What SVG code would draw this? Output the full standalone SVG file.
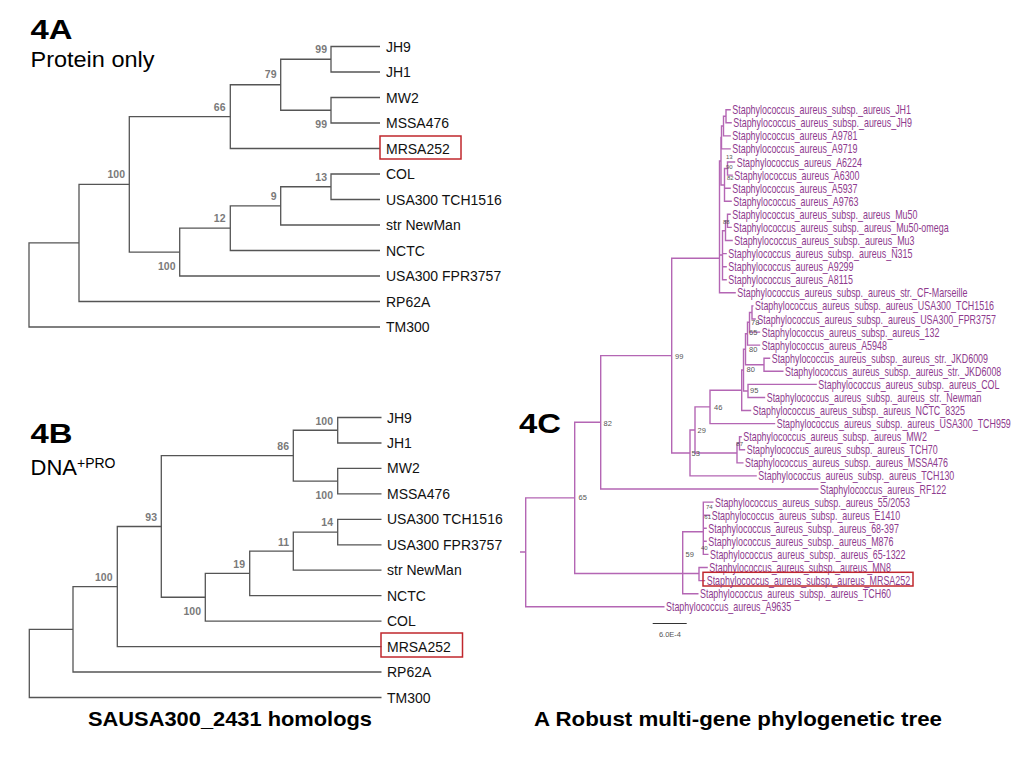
<svg xmlns="http://www.w3.org/2000/svg" width="1024" height="768" viewBox="0 0 1024 768">
<style>
.bg{fill:#fff}
.ln{fill:none;stroke:#555;stroke-width:1.3}
.lp{fill:none;stroke:#b466b4;stroke-width:1.4}
.lf{font-family:"Liberation Sans",Arial,sans-serif;font-size:14px;fill:#111}
.sp{font-family:"Liberation Sans",Arial,sans-serif;font-size:10.5px;font-weight:bold;fill:#7a7a7a;text-anchor:end}
.cl{font-family:"Liberation Sans",Arial,sans-serif;font-size:12.5px;fill:#8e3a8e}
.cs{font-family:"Liberation Sans",Arial,sans-serif;font-size:7.5px;fill:#555}
.ct{font-family:"Liberation Sans",Arial,sans-serif;font-size:6px;fill:#555}
.ttl{font-family:"Liberation Sans",Arial,sans-serif;font-weight:bold;font-size:28px;fill:#000}
.sub{font-family:"Liberation Sans",Arial,sans-serif;font-size:22px;fill:#000}
.cap{font-family:"Liberation Sans",Arial,sans-serif;font-weight:bold;font-size:21px;fill:#000}
.box{fill:none;stroke:#c0272d;stroke-width:1.5}
</style>
<rect class="bg" x="0" y="0" width="1024" height="768"/>

<!-- Titles -->
<g id="titles">
<text class="ttl" x="30.5" y="39.3" textLength="42" lengthAdjust="spacingAndGlyphs">4A</text>
<text class="sub" x="30.5" y="67" textLength="124" lengthAdjust="spacingAndGlyphs">Protein only</text>
<text class="ttl" x="30.5" y="443.3" textLength="42" lengthAdjust="spacingAndGlyphs">4B</text>
<text class="sub" x="30.5" y="474.7">DNA<tspan font-size="14" dy="-6.4">+PRO</tspan></text>
<text class="ttl" x="519" y="433" textLength="42" lengthAdjust="spacingAndGlyphs">4C</text>
<text class="cap" x="88" y="726" textLength="284" lengthAdjust="spacingAndGlyphs">SAUSA300_2431 homologs</text>
<text class="cap" x="534" y="726" textLength="408" lengthAdjust="spacingAndGlyphs">A Robust multi-gene phylogenetic tree</text>
</g>

<!-- ===== 4A ===== -->
<g id="tree4A-connectors">
<path class="ln" d="M380 46.5 H331 V72 H380"/>
<path class="ln" d="M380 97.5 H331 V123 H380"/>
<path class="ln" d="M331 59.25 H280.7 V110.25 H331"/>
<path class="ln" d="M280.7 84.75 H230.3 V148.5 H380"/>
<path class="ln" d="M380 174 H331 V199.5 H380"/>
<path class="ln" d="M331 186.75 H280.7 V225 H380"/>
<path class="ln" d="M280.7 205.9 H230.3 V250.5 H380"/>
<path class="ln" d="M230.3 228.2 H179.7 V276 H380"/>
<path class="ln" d="M230.3 116.6 H129.3 V252.1 H179.7"/>
<path class="ln" d="M129.3 184.35 H79 V301.5 H380"/>
<path class="ln" d="M79 242.9 H29 V327 H380"/>
</g>
<g id="tree4A-support">
<text class="sp" x="327" y="53">99</text>
<text class="sp" x="276.5" y="78">79</text>
<text class="sp" x="225.5" y="111">66</text>
<text class="sp" x="327" y="128">99</text>
<text class="sp" x="125" y="178">100</text>
<text class="sp" x="327" y="181">13</text>
<text class="sp" x="276.5" y="200">9</text>
<text class="sp" x="225.5" y="222">12</text>
<text class="sp" x="175.5" y="270">100</text>
</g>
<g id="a-JH9"><text class="lf" x="386" y="51.5">JH9</text></g>
<g id="a-JH1"><text class="lf" x="386" y="77">JH1</text></g>
<g id="a-MW2"><text class="lf" x="386" y="102.5">MW2</text></g>
<g id="a-MSSA476"><text class="lf" x="386" y="128">MSSA476</text></g>
<g id="a-MRSA252"><rect class="box" x="380" y="136" width="81" height="23"/><text class="lf" x="386" y="153.5">MRSA252</text></g>
<g id="a-COL"><text class="lf" x="386" y="179">COL</text></g>
<g id="a-TCH1516"><text class="lf" x="386" y="204.5">USA300 TCH1516</text></g>
<g id="a-NewMan"><text class="lf" x="386" y="230">str NewMan</text></g>
<g id="a-NCTC"><text class="lf" x="386" y="255.5">NCTC</text></g>
<g id="a-FPR3757"><text class="lf" x="386" y="281">USA300 FPR3757</text></g>
<g id="a-RP62A"><text class="lf" x="386" y="306.5">RP62A</text></g>
<g id="a-TM300"><text class="lf" x="386" y="332">TM300</text></g>

<!-- ===== 4B ===== -->
<g id="tree4B-connectors">
<path class="ln" d="M381.5 417.5 H337.7 V443 H381.5"/>
<path class="ln" d="M381.5 468.4 H337.7 V493.9 H381.5"/>
<path class="ln" d="M337.7 430.25 H293.3 V481.15 H337.7"/>
<path class="ln" d="M381.5 519.3 H337.7 V544.8 H381.5"/>
<path class="ln" d="M337.7 532.05 H293.3 V570.2 H381.5"/>
<path class="ln" d="M293.3 551.1 H249.7 V595.7 H381.5"/>
<path class="ln" d="M249.7 573.4 H205.3 V621.1 H381.5"/>
<path class="ln" d="M293.3 455.7 H161.3 V597.25 H205.3"/>
<path class="ln" d="M161.3 526.5 H117.3 V646.6 H381.5"/>
<path class="ln" d="M117.3 586.55 H73 V672 H381.5"/>
<path class="ln" d="M73 629.3 H29.3 V697.5 H381.5"/>
</g>
<g id="tree4B-support">
<text class="sp" x="333" y="424.5">100</text>
<text class="sp" x="289" y="450">86</text>
<text class="sp" x="333" y="499">100</text>
<text class="sp" x="333" y="526">14</text>
<text class="sp" x="289" y="546">11</text>
<text class="sp" x="245" y="567.5">19</text>
<text class="sp" x="201" y="615">100</text>
<text class="sp" x="157" y="521">93</text>
<text class="sp" x="112.5" y="581">100</text>
</g>
<g id="b-JH9"><text class="lf" x="387" y="422.5">JH9</text></g>
<g id="b-JH1"><text class="lf" x="387" y="448">JH1</text></g>
<g id="b-MW2"><text class="lf" x="387" y="473.4">MW2</text></g>
<g id="b-MSSA476"><text class="lf" x="387" y="498.9">MSSA476</text></g>
<g id="b-TCH1516"><text class="lf" x="387" y="524.3">USA300 TCH1516</text></g>
<g id="b-FPR3757"><text class="lf" x="387" y="549.8">USA300 FPR3757</text></g>
<g id="b-NewMan"><text class="lf" x="387" y="575.2">str NewMan</text></g>
<g id="b-NCTC"><text class="lf" x="387" y="600.7">NCTC</text></g>
<g id="b-COL"><text class="lf" x="387" y="626.1">COL</text></g>
<g id="b-MRSA252"><rect class="box" x="381" y="633" width="81.5" height="24"/><text class="lf" x="387" y="651.6">MRSA252</text></g>
<g id="b-RP62A"><text class="lf" x="387" y="677">RP62A</text></g>
<g id="b-TM300"><text class="lf" x="387" y="702.5">TM300</text></g>

<!-- ===== 4C ===== -->
<g id="tree4C-connectors">
<path class="lp" d="M730.8 109.7 H726 V122.8 H731.8"/>
<path class="lp" d="M726 116.25 H723.5 V135.9 H730.8"/>
<path class="lp" d="M723.5 126 H721.5 V148.9 H730.8"/>
<path class="lp" d="M735.2 162 H727.5 V175.1 H732.8"/>
<path class="lp" d="M727.5 168.55 H724.5 V201.3 H731.8 M724.5 188.2 H730.8"/>
<path class="lp" d="M721.5 137.5 H721 V185 H724.5"/>
<path class="lp" d="M730.8 214.3 H727.5 V227.4 H731.8"/>
<path class="lp" d="M727.5 220.85 H725.5 V240.5 H732.8"/>
<path class="lp" d="M725.5 230.7 H722.5 V279.7 H726.8 M722.5 253.6 H726.8 M722.5 266.7 H726.8"/>
<path class="lp" d="M721 161 H719.5 V292.8 H735.8 M719.5 255 H722.5"/>
<path class="lp" d="M753.5 305.9 H752 V319 H755.8"/>
<path class="lp" d="M752 312.45 H749.5 V332.1 H760.2"/>
<path class="lp" d="M749.5 322.3 H747.5 V345.1 H760.2"/>
<path class="lp" d="M770.2 358.2 H764 V371.3 H783.5"/>
<path class="lp" d="M747.5 333.7 H745.5 V364.75 H764"/>
<path class="lp" d="M816.8 384.4 H748 V397.5 H765.2"/>
<path class="lp" d="M745.5 349.2 H743.5 V390.95 H748"/>
<path class="lp" d="M743.5 370 H741.7 V410.5 H751.2"/>
<path class="lp" d="M741.7 390.25 H710 V423.6 H775.2"/>
<path class="lp" d="M741.8 436.7 H739.5 V449.8 H745.2"/>
<path class="lp" d="M739.5 443.25 H737 V462.9 H743.5"/>
<path class="lp" d="M710 406.9 H695 V453 H737"/>
<path class="lp" d="M695 430 H690 V475.9 H756.8"/>
<path class="lp" d="M719.5 258.3 H671.7 V453 H690"/>
<path class="lp" d="M671.7 355.65 H600.7 V489 H818.5"/>
<path class="lp" d="M713.5 502.1 H703.3 V554.4 H708.5 M703.3 515.2 H710.2 M703.3 528.3 H706.8 M703.3 541.3 H706.8"/>
<path class="lp" d="M707.8 567.5 H699 V580.6 H705.2"/>
<path class="lp" d="M703.3 531.7 H682.7 V593.7 H698.5 M682.7 573.5 H699"/>
<path class="lp" d="M600.7 422.3 H574.7 V573.5 H682.7"/>
<path class="lp" d="M574.7 497.9 H525.7 V606.7 H664.5 M520 552 H525.7"/>
</g>
<g id="tree4C-support">
<text class="cs" x="675" y="358.5">99</text>
<text class="cs" x="603.5" y="425.5">82</text>
<text class="cs" x="578.5" y="500">65</text>
<text class="cs" x="714" y="409.5">46</text>
<text class="cs" x="697.5" y="433">29</text>
<text class="cs" x="691.5" y="455.5">53</text>
<text class="ct" x="736.3" y="446">87</text>
<text class="cs" x="750" y="393">95</text>
<text class="cs" x="751" y="325">78</text>
<text class="cs" x="749" y="335">65</text>
<text class="cs" x="749" y="351.5">80</text>
<text class="cs" x="746.5" y="372">80</text>
<text class="cs" x="685.5" y="556.5">59</text>
<text class="ct" x="706" y="508.5">74</text>
<text class="ct" x="704.3" y="519">61</text>
<text class="ct" x="701" y="550">40</text>
<text class="ct" x="726" y="158.5">13</text>
<text class="ct" x="726" y="168.5">90</text>
<text class="ct" x="727" y="179.5">82</text>
<text class="ct" x="723" y="224">88</text>
</g>
<g id="c-JH1"><text class="cl" transform="translate(732.3,114.2) scale(0.713,1)">Staphylococcus_aureus_subsp._aureus_JH1</text></g>
<g id="c-JH9"><text class="cl" transform="translate(733.3,127.3) scale(0.713,1)">Staphylococcus_aureus_subsp._aureus_JH9</text></g>
<g id="c-A9781"><text class="cl" transform="translate(732.3,140.4) scale(0.713,1)">Staphylococcus_aureus_A9781</text></g>
<g id="c-A9719"><text class="cl" transform="translate(732.3,153.4) scale(0.713,1)">Staphylococcus_aureus_A9719</text></g>
<g id="c-A6224"><text class="cl" transform="translate(736.7,166.5) scale(0.713,1)">Staphylococcus_aureus_A6224</text></g>
<g id="c-A6300"><text class="cl" transform="translate(734.3,179.6) scale(0.713,1)">Staphylococcus_aureus_A6300</text></g>
<g id="c-A5937"><text class="cl" transform="translate(732.3,192.7) scale(0.713,1)">Staphylococcus_aureus_A5937</text></g>
<g id="c-A9763"><text class="cl" transform="translate(733.3,205.8) scale(0.713,1)">Staphylococcus_aureus_A9763</text></g>
<g id="c-Mu50"><text class="cl" transform="translate(732.3,218.8) scale(0.713,1)">Staphylococcus_aureus_subsp._aureus_Mu50</text></g>
<g id="c-Mu50-omega"><text class="cl" transform="translate(733.3,231.9) scale(0.713,1)">Staphylococcus_aureus_subsp._aureus_Mu50-omega</text></g>
<g id="c-Mu3"><text class="cl" transform="translate(734.3,245) scale(0.713,1)">Staphylococcus_aureus_subsp._aureus_Mu3</text></g>
<g id="c-N315"><text class="cl" transform="translate(728.3,258.1) scale(0.713,1)">Staphylococcus_aureus_subsp._aureus_N315</text></g>
<g id="c-A9299"><text class="cl" transform="translate(728.3,271.2) scale(0.713,1)">Staphylococcus_aureus_A9299</text></g>
<g id="c-A8115"><text class="cl" transform="translate(728.3,284.2) scale(0.713,1)">Staphylococcus_aureus_A8115</text></g>
<g id="c-CF-Marseille"><text class="cl" transform="translate(737.3,297.3) scale(0.713,1)">Staphylococcus_aureus_subsp._aureus_str._CF-Marseille</text></g>
<g id="c-TCH1516"><text class="cl" transform="translate(755,310.4) scale(0.713,1)">Staphylococcus_aureus_subsp._aureus_USA300_TCH1516</text></g>
<g id="c-FPR3757"><text class="cl" transform="translate(757.3,323.5) scale(0.713,1)">Staphylococcus_aureus_subsp._aureus_USA300_FPR3757</text></g>
<g id="c-132"><text class="cl" transform="translate(761.7,336.6) scale(0.713,1)">Staphylococcus_aureus_subsp._aureus_132</text></g>
<g id="c-A5948"><text class="cl" transform="translate(761.7,349.6) scale(0.713,1)">Staphylococcus_aureus_A5948</text></g>
<g id="c-JKD6009"><text class="cl" transform="translate(771.7,362.7) scale(0.713,1)">Staphylococcus_aureus_subsp._aureus_str._JKD6009</text></g>
<g id="c-JKD6008"><text class="cl" transform="translate(785,375.8) scale(0.713,1)">Staphylococcus_aureus_subsp._aureus_str._JKD6008</text></g>
<g id="c-COL"><text class="cl" transform="translate(818.3,388.9) scale(0.713,1)">Staphylococcus_aureus_subsp._aureus_COL</text></g>
<g id="c-Newman"><text class="cl" transform="translate(766.7,402) scale(0.713,1)">Staphylococcus_aureus_subsp._aureus_str._Newman</text></g>
<g id="c-NCTC8325"><text class="cl" transform="translate(752.7,415) scale(0.713,1)">Staphylococcus_aureus_subsp._aureus_NCTC_8325</text></g>
<g id="c-TCH959"><text class="cl" transform="translate(776.7,428.1) scale(0.713,1)">Staphylococcus_aureus_subsp._aureus_USA300_TCH959</text></g>
<g id="c-MW2"><text class="cl" transform="translate(743.3,441.2) scale(0.713,1)">Staphylococcus_aureus_subsp._aureus_MW2</text></g>
<g id="c-TCH70"><text class="cl" transform="translate(746.7,454.3) scale(0.713,1)">Staphylococcus_aureus_subsp._aureus_TCH70</text></g>
<g id="c-MSSA476"><text class="cl" transform="translate(745,467.4) scale(0.713,1)">Staphylococcus_aureus_subsp._aureus_MSSA476</text></g>
<g id="c-TCH130"><text class="cl" transform="translate(758.3,480.4) scale(0.713,1)">Staphylococcus_aureus_subsp._aureus_TCH130</text></g>
<g id="c-RF122"><text class="cl" transform="translate(820,493.5) scale(0.713,1)">Staphylococcus_aureus_RF122</text></g>
<g id="c-55-2053"><text class="cl" transform="translate(715,506.6) scale(0.713,1)">Staphylococcus_aureus_subsp._aureus_55/2053</text></g>
<g id="c-E1410"><text class="cl" transform="translate(711.7,519.7) scale(0.713,1)">Staphylococcus_aureus_subsp._aureus_E1410</text></g>
<g id="c-68-397"><text class="cl" transform="translate(708.3,532.8) scale(0.713,1)">Staphylococcus_aureus_subsp._aureus_68-397</text></g>
<g id="c-M876"><text class="cl" transform="translate(708.3,545.8) scale(0.713,1)">Staphylococcus_aureus_subsp._aureus_M876</text></g>
<g id="c-65-1322"><text class="cl" transform="translate(710,558.9) scale(0.713,1)">Staphylococcus_aureus_subsp._aureus_65-1322</text></g>
<g id="c-MN8"><text class="cl" transform="translate(709.3,572) scale(0.713,1)">Staphylococcus_aureus_subsp._aureus_MN8</text></g>
<g id="c-MRSA252"><rect class="box" x="703" y="572.3" width="210" height="13.7"/><text class="cl" transform="translate(706.7,585.1) scale(0.713,1)">Staphylococcus_aureus_subsp._aureus_MRSA252</text></g>
<g id="c-TCH60"><text class="cl" transform="translate(700,598.2) scale(0.713,1)">Staphylococcus_aureus_subsp._aureus_TCH60</text></g>
<g id="c-A9635"><text class="cl" transform="translate(666,611.2) scale(0.713,1)">Staphylococcus_aureus_A9635</text></g>
<g id="scalebar">
<path d="M652.7 623.5 H686.7" fill="none" stroke="#333" stroke-width="1.2"/>
<text class="cs" x="670" y="637" text-anchor="middle" fill="#333">6.0E-4</text>
</g>
</svg>
